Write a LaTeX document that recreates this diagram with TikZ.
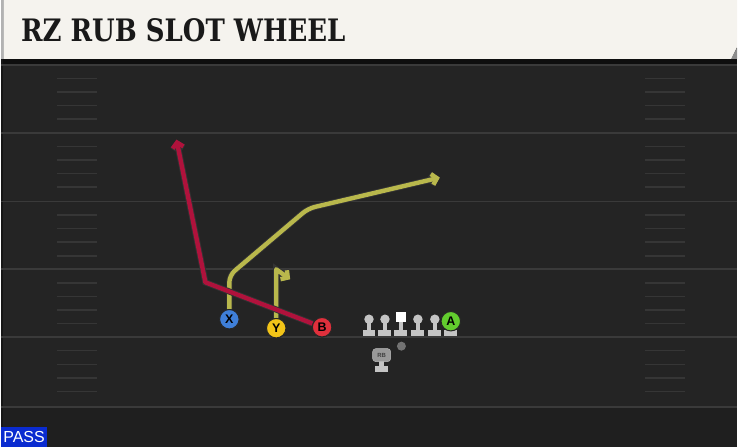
\documentclass[tikz,border=0pt]{standalone}
\usepackage{fontspec}
\setmainfont{Liberation Sans}
\setsansfont{Liberation Sans}
\newfontfamily\titlefont{DejaVu Serif}
\usetikzlibrary{arrows.meta}

\definecolor{fieldgray}{HTML}{242424}
\definecolor{endgray}{HTML}{1F1F1F}
\definecolor{linegray}{HTML}{3A3A3A}
\definecolor{hashgray}{HTML}{363636}
\definecolor{headercream}{HTML}{F5F3EE}
\definecolor{routered}{HTML}{B0123C}
\definecolor{routeyellow}{HTML}{B9B84C}
\definecolor{xblue}{HTML}{3F7FD8}
\definecolor{yyellow}{HTML}{F2C418}
\definecolor{bred}{HTML}{E0303C}
\definecolor{agreen}{HTML}{62CC2E}
\definecolor{passblue}{HTML}{0A2BD0}
\definecolor{linemangray}{HTML}{C4C4C4}

\begin{document}
\begin{tikzpicture}[x=1pt, y=-1pt,
  yardline/.style={draw=linegray, line width=1.8pt},
  hashmark/.style={draw=hashgray, line width=1.5pt},
  playernode/.style={circle, draw=black!85, line width=1pt, minimum size=19.5pt,
    inner sep=0pt, font=\sffamily\bfseries\fontsize{12.5}{12.5}\selectfont},
  routeline/.style={line width=4.4pt, line join=round,
    preaction={draw=black!80, line width=6.2pt}},
  routetip/.style={-{Straight Barb[length=5pt, width=11pt]}},
  linemanhead/.style={circle, fill=linemangray, inner sep=0pt, minimum size=9.5pt},
  linemanbase/.style={fill=linemangray}]

  % field
  \fill[fieldgray] (0,0) rectangle (738,448);
  \fill[endgray] (0,408) rectangle (738,448);
  \fill[black!60!fieldgray] (0,59) rectangle (738,64);
  \fill[black!40!fieldgray] (0,59) rectangle (2.5,448);
  \foreach \yl in {65,133,202,270,338,408}
    \draw[yardline] (0,\yl) -- (738,\yl);
  \foreach \yl in {65,133,202,270,338} {
    \foreach \k in {1,...,4} {
      \draw[hashmark] (56,\yl+\k*13.6) -- (96,\yl+\k*13.6);
      \draw[hashmark] (646,\yl+\k*13.6) -- (686,\yl+\k*13.6);
    }
  }

  % header
  \fill[black!45] (732,59) -- (738,48) -- (738,59) -- cycle;
  \fill[black!30] (0,0) rectangle (3,59);
  \fill[headercream] (3,0) -- (738,0) -- (738,47) -- (732,59) -- (3,59) -- cycle;
  \node[anchor=base west, inner sep=0pt, text=black!90,
    font=\titlefont\bfseries\fontsize{31}{31}\selectfont] (title) at (20,42)
    {\scalebox{0.84}[1]{RZ RUB SLOT WHEEL}};

  % players
  \node[playernode, fill=xblue] (X) at (229,320) {X};
  \node[playernode, fill=yyellow] (Y) at (276,329) {Y};
  \node[playernode, fill=bred] (B) at (322,328) {B};

  % route points
  \coordinate (xstem) at (229,276);
  \coordinate (xbend) at (308,209);
  \coordinate (xend) at (440,178);
  \coordinate (ystem) at (276,270);
  \coordinate (yend) at (290,280);
  \coordinate (redbreak) at (205,283);
  \coordinate (redend) at (176,140);

  \draw[routeline, routeyellow, routetip, rounded corners=7pt]
    (X) -- (xstem) -- (xbend) -- (xend);
  \draw[routeline, routeyellow, routetip] (Y) -- (ystem) -- (yend);
  \draw[routeline, routered, routetip] (B) -- (redbreak) -- (redend);

  % redraw players over routes
  \node[playernode, fill=xblue] at (X) {X};
  \node[playernode, fill=yyellow] at (Y) {Y};
  \node[playernode, fill=bred] at (B) {B};

  % line
  \foreach \lx/\nm in {369/lt, 385/lg, 418/rg, 435/rt} {
    \fill[linemanbase] (\lx-2.2,320) rectangle (\lx+2.2,331);
    \fill[linemanbase] (\lx-6.5,330.5) rectangle (\lx+6.5,336.5);
    \node[linemanhead] (\nm) at (\lx,320) {};
  }
  \fill[linemanbase] (398.8,320) rectangle (403.2,331);
  \fill[linemanbase] (394.5,330.5) rectangle (407.5,336.5);
  \node[fill=white, inner sep=0pt, minimum size=9.5pt] (C) at (401,318) {};
  \fill[linemanbase] (444.5,330.5) rectangle (457.5,336.5);
  \node[playernode, fill=agreen] (A) at (451,322) {A};

  % ball and back
  \node[circle, fill=black!55, inner sep=0pt, minimum size=9pt] (ball) at (401.5,347) {};
  \fill[linemanbase] (379.5,361) rectangle (383.9,367);
  \fill[linemanbase] (375.2,366.5) rectangle (388.2,372.5);
  \node[rounded corners=3pt, fill=black!40, draw=black!25, inner sep=0pt,
    minimum width=18pt, minimum height=13pt,
    font=\sffamily\bfseries\fontsize{6}{6}\selectfont, text=black!75] (RB) at (381.7,356) {RB};

  % play type
  \node[fill=passblue, text=white, anchor=south west, inner sep=0pt,
    minimum width=46pt, minimum height=20pt,
    font=\sffamily\fontsize{16}{16}\selectfont] (playtype) at (0,448) {PASS};
\end{tikzpicture}
\end{document}
